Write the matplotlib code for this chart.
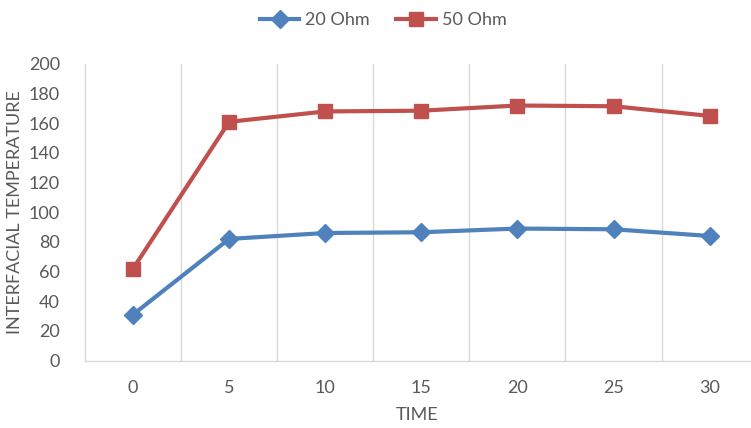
import matplotlib
matplotlib.use('Agg')
from matplotlib import pyplot as plt
import numpy as np

# chart data
times = ['0', '5', '10', '15', '20', '25', '30']
ohm20 = [31, 82, 86, 86.5, 89, 88.5, 84]
ohm50 = [62, 161, 168, 168.5, 172, 171.5, 165]
yticks = [0, 20, 40, 60, 80, 100, 120, 140, 160, 180, 200]

plt.rcParams['font.family'] = ['Lato', 'DejaVu Sans']
gray = '#595959'
grid = '#d9d9d9'

fig = plt.figure(figsize=(7.51, 4.28), dpi=100)
ax = fig.add_axes([85 / 751, 1 - 360.5 / 428, 665 / 751, (360.5 - 64) / 428])

x = np.arange(len(times))
ax.plot(x, ohm20, color='#4f81bd', lw=3, marker='D', ms=9, label='20 Ohm')
ax.plot(x, ohm50, color='#c0504d', lw=3, marker='s', ms=10, label='50 Ohm')

ax.set_xlim(-0.5, 6.42)
ax.set_ylim(0, 200)
ax.set_yticks(yticks)
ax.set_xticks(x)
ax.set_xticklabels(times)

# vertical gridlines between categories
for b in np.arange(0.5, len(times) - 0.5, 1):
    ax.axvline(b, color=grid, lw=1, zorder=0)

for s in ['top', 'right']:
    ax.spines[s].set_visible(False)
for s in ['left', 'bottom']:
    ax.spines[s].set_color(grid)
    ax.spines[s].set_linewidth(1)

ax.tick_params(axis='both', length=0, colors=gray, labelsize=13)
ax.tick_params(axis='x', pad=14)
ax.tick_params(axis='y', pad=18)

ax.set_xlabel('TIME', color=gray, fontsize=13, labelpad=8)
ax.set_ylabel('INTERFACIAL TEMPERATURE', color=gray, fontsize=13, labelpad=4)

fig.legend(loc='upper center', bbox_to_anchor=(0.51, 1.01), ncol=2, frameon=False,
           fontsize=13, labelcolor=gray, handlelength=2.2, columnspacing=1.5,
           handletextpad=0.3)

fig.savefig('out.png', dpi=100)
